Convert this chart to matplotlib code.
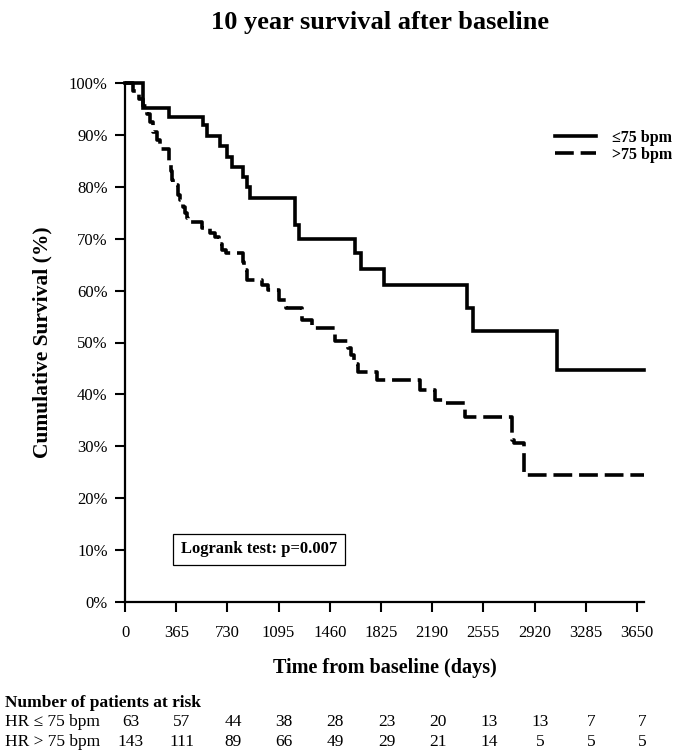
"""
10 year survival after baseline - Kaplan-Meier by heart rate group
"""
import matplotlib
matplotlib.use("Agg")
import matplotlib.pyplot as plt
import matplotlib.transforms as mtransforms

plt.rcParams["font.family"] = ["Liberation Serif", "DejaVu Serif"]

# step times (days) and survival after each step
low_t = [0, 126, 314, 558, 582, 677, 725, 760, 843, 867, 891, 1212, 1240,
         1639, 1680, 1848, 2435, 2482, 3081, 3700]
low_s = [1.0, .951, .935, .919, .898, .879, .857, .839, .819, .80, .778, .726,
         .70, .673, .642, .61, .567, .522, .447, .447]

high_t = [0, 60, 100, 130, 160, 180, 200, 230, 250, 315, 325, 335, 345, 380,
          392, 410, 428, 440, 451, 546, 606, 641, 670, 689, 720, 839, 850, 867,
          974, 1022, 1100, 1150, 1262, 1330, 1497, 1590, 1610, 1630, 1660, 1800,
          2103, 2210, 2268, 2425, 2760, 2775, 2845, 3700]
high_s = [1.0, .985, .97, .955, .94, .925, .905, .89, .873, .85, .83, .813,
          .803, .785, .775, .762, .75, .74, .733, .72, .711, .704, .69, .678,
          .672, .655, .64, .62, .61, .601, .582, .566, .543, .527, .502, .49,
          .475, .458, .444, .428, .408, .389, .383, .356, .312, .306, .245, .245]

risk_days = [0, 365, 730, 1095, 1460, 1825, 2190, 2555, 2920, 3285, 3650]
risk_low = [63, 57, 44, 38, 28, 23, 20, 13, 13, 7, 7]
risk_high = [143, 111, 89, 66, 49, 29, 21, 14, 5, 5, 5]

fig = plt.figure(figsize=(6.85, 7.55), dpi=100)
ax = fig.add_axes([125 / 685, 1 - 602 / 755, 519 / 685, 519 / 755])

ax.step(low_t, low_s, where="post", color="black", lw=2.6,
        solid_joinstyle="miter", clip_on=False, label="\u226475 bpm")
ax.step(high_t, high_s, where="post", color="black", lw=2.6,
        dashes=(5.2, 1.9), dash_capstyle="butt", clip_on=False,
        label=">75 bpm")

ax.set_xlim(0, 3700)
ax.set_ylim(0, 1.0)
ax.set_xticks(risk_days)
ax.set_yticks([i / 10 for i in range(11)])
ax.set_yticklabels([f"{i * 10}%" for i in range(11)])
for s in ["top", "right"]:
    ax.spines[s].set_visible(False)
for s in ["left", "bottom"]:
    ax.spines[s].set_linewidth(1.6)
ax.tick_params(direction="out", length=7, width=1.5, labelsize=12)
ax.tick_params(axis="x", pad=9.5)
ax.tick_params(axis="y", pad=5.5)

ax.set_xlabel("Time from baseline (days)", fontsize=14.5, fontweight="bold",
              labelpad=12)
ax.set_ylabel("Cumulative Survival (%)", fontsize=15.5, fontweight="bold",
              labelpad=12)
fig.text(0.555, 1 - 22 / 755, "10 year survival after baseline", fontsize=19,
         fontweight="bold", ha="center", va="center")

ax.legend(loc="upper left", bbox_to_anchor=(0.80, 0.937), frameon=False,
          handlelength=2.6, handletextpad=1.0, labelspacing=0.05,
          prop={"weight": "bold", "size": 11.5})

ax.text(955, 0.102, "Logrank test: p=0.007", fontsize=12, fontweight="bold",
        ha="center", va="center",
        bbox=dict(boxstyle="square,pad=0.45", fc="white", ec="black", lw=0.9))

# number at risk table
trans = mtransforms.blended_transform_factory(ax.transData, fig.transFigure)
fig.text(5 / 685, 1 - 703 / 755, "Number of patients at risk", fontsize=12.5,
         fontweight="bold", va="center")
fig.text(5 / 685, 1 - 722 / 755, "HR \u2264 75 bpm", fontsize=12.5, va="center")
fig.text(5 / 685, 1 - 742 / 755, "HR > 75 bpm", fontsize=12.5, va="center")
for d, a, b in zip(risk_days, risk_low, risk_high):
    ax.annotate(str(a), (d, 1 - 722 / 755), xycoords=trans, xytext=(4, 0),
                textcoords="offset points", ha="center", va="center",
                fontsize=12.5, annotation_clip=False)
    ax.annotate(str(b), (d, 1 - 742 / 755), xycoords=trans, xytext=(4, 0),
                textcoords="offset points", ha="center", va="center",
                fontsize=12.5, annotation_clip=False)

fig.savefig("out.png", dpi=100, facecolor="white")
